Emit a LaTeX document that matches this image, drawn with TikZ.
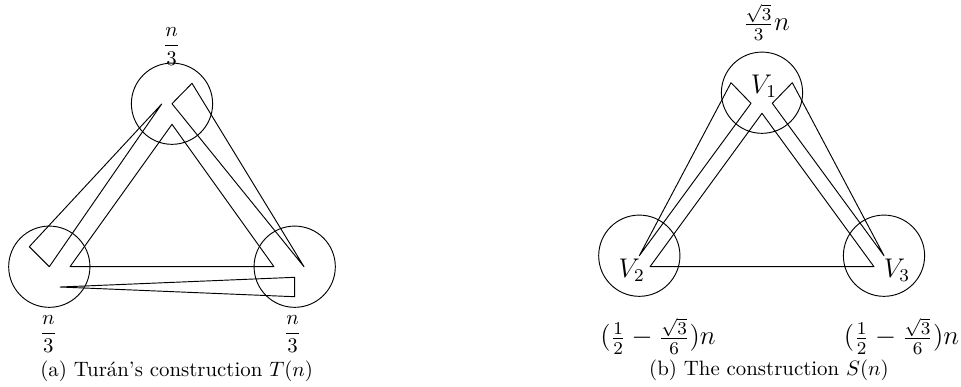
\documentclass[tikz,border=0pt]{standalone}
\begin{document}
\begin{tikzpicture}[x=0.48pt,y=-0.48pt,line width=0.45pt,line join=round,
  part/.style={circle,draw,minimum size=39pt,inner sep=0pt},
  lab/.style={inner sep=0pt},
  biglab/.style={inner sep=0pt,font=\large,scale=1.08,transform shape},
  captext/.style={inner sep=0pt,anchor=base}]
\useasboundingbox (0,0) rectangle (961,386);
% ---------- (a) ----------
\node[part] (ta) at (172,103.7) {};
\node[part] (la) at (49.3,266.7) {};
\node[part] (ra) at (294.7,266.7) {};
\draw (172,124.3) -- (70,266.7) -- (274,266.7) -- cycle;
\draw (161.7,104) -- (29.3,246.7) -- (49.3,266.7) -- cycle;
\draw (172,103.7) -- (192,83.3) -- (304,266.7) -- cycle;
\draw (60,287) -- (294.7,277.3) -- (294.7,296.7) -- cycle;
\node[lab] (tal) at (171.7,46.5) {$\displaystyle\frac{n}{3}$};
\node[lab] (lal) at (48.3,334) {$\displaystyle\frac{n}{3}$};
\node[lab] (ral) at (292.7,334) {$\displaystyle\frac{n}{3}$};
\node[captext] (capa) at (176.7,376.3) {(a) Turán's construction $T(n)$};
% ---------- (b) ----------
\node[part] (tb) at (762,92.7) {};
\node[part] (lb) at (639.3,255.7) {};
\node[part] (rb) at (884,255.7) {};
\draw (762,113.3) -- (650,266.7) -- (874,266.7) -- cycle;
\draw (731,82.7) -- (751,103.3) -- (639.3,255.7) -- cycle;
\draw (792.3,82.7) -- (772.3,103.3) -- (884,255.7) -- cycle;
\node[biglab] (v1) at (764,86) {$V_1$};
\node[biglab] (v2) at (631.7,270) {$V_2$};
\node[biglab] (v3) at (897,270) {$V_3$};
\node[biglab] (tbl) at (766.5,22) {$\frac{\sqrt{3}}{3}n$};
\node[biglab] (lbl) at (658,336) {$(\frac{1}{2}-\frac{\sqrt{3}}{6})n$};
\node[biglab] (rbl) at (901.5,336) {$(\frac{1}{2}-\frac{\sqrt{3}}{6})n$};
\node[captext] (capb) at (769,375) {(b) The construction $S(n)$};
\end{tikzpicture}
\end{document}
